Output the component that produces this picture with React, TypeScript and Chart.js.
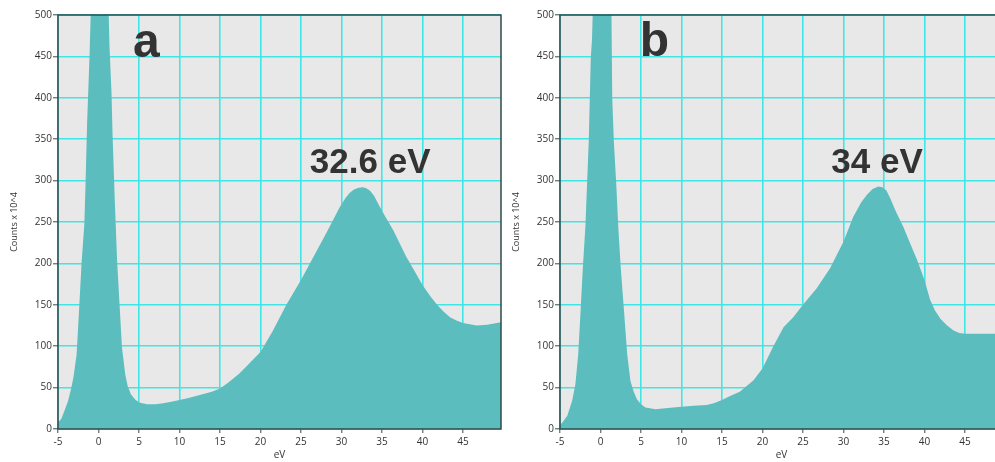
import React, { useEffect, useRef } from 'react';
import { Chart, registerables } from 'chart.js';

Chart.register(...registerables);

// ---- data ----
const energyA = [-5, -4.6, -4.2, -3.75, -3.4, -3.1, -2.7, -2.4, -2.1, -1.75, -1.6, -1.4, -1.1, -0.95, -0.6, 0, 0.6, 1.0, 1.25, 1.35, 1.6, 1.75, 2.0, 2.3, 2.6, 2.9, 3.3, 3.6, 4.0, 4.5, 5.0, 6.0, 7.0, 8.0, 9.0, 10, 11, 12.5, 14, 15, 16, 17.4, 18.5, 20, 21.5, 23.2, 25, 26.5, 28.2, 29.8, 30.5, 31, 31.5, 32, 32.6, 33, 33.5, 34, 34.75, 35.5, 36.4, 37.2, 38, 39, 40, 41, 41.8, 42.6, 43.4, 44.2, 45, 46.7, 48, 49.7];
const countsA = [8, 12, 22, 34, 48, 62, 90, 143, 199, 247, 295, 371, 452, 505, 700, 900, 800, 620, 505, 464, 408, 351, 279, 203, 150, 98, 66, 52, 42, 36, 32, 30, 30, 31, 33, 35, 37, 41, 45, 49, 56, 67, 78, 93, 118, 150, 180, 207, 238, 268, 279, 285, 289, 291, 292, 291, 288, 282, 268, 255, 240, 224, 208, 191, 174, 160, 150, 142, 135, 131, 128, 125, 126, 129];

const energyB = [-5, -4.7, -4.1, -3.5, -3.1, -2.75, -2.5, -2.2, -1.85, -1.65, -1.45, -1.2, -1.05, -0.95, -0.6, 0, 0.6, 1.0, 1.35, 1.45, 1.65, 1.95, 2.2, 2.5, 2.9, 3.3, 3.7, 4.1, 4.5, 5.0, 5.55, 6.8, 8, 9, 10, 11.5, 13.1, 14, 15, 16, 17.2, 18.9, 20, 21.3, 22.6, 23.8, 25, 26.7, 28.35, 30, 31.2, 32.2, 32.9, 33.6, 34.3, 34.8, 35.3, 35.8, 36.5, 37.4, 38.2, 39.1, 40, 40.7, 41.3, 42, 42.8, 43.6, 44.3, 45, 46, 49.7];
const countsB = [5, 8, 16, 34, 54, 90, 135, 191, 247, 299, 347, 448, 470, 505, 700, 900, 850, 650, 505, 400, 347, 295, 243, 195, 143, 90, 58, 45, 36, 30, 26, 24, 25, 26, 27, 28, 29, 31, 35, 40, 45, 59, 73, 99, 123, 135, 150, 170, 194, 226, 256, 274, 283, 290, 293, 292, 288, 278, 262, 244, 225, 204, 180, 156, 143, 133, 125, 119, 116, 115, 115, 115];

const xRange = [-5, 49.7];
const yRange = [0, 500];
const xStep = 5;
const yStep = 50;
const xTitle = 'eV';
const yTitle = 'Counts x 10^4';
const panelLetters = ['a', 'b'];
const peakLabels = ['32.6 eV', '34 eV'];
// annotation anchors in data units [eV, counts]
const letterAnchors = [[4.26, 449], [4.85, 450]];
const peakAnchors = [[26.1, 309], [28.5, 309]];

// ---- styles ----
const FILL = '#5bbdbd';
const GRID = 'rgb(64,230,230)';
const PLOT_BG = '#e8e8e8';
const AXIS = '#2f4c4c';
const TEXT = '#333333';
const FONT = "'Open Sans', 'DejaVu Sans', sans-serif";
const BOLD_FONT = "'Liberation Sans', Arial, sans-serif";

type PanelProps = {
  energy: number[];
  counts: number[];
  letter: string;
  peak: string;
  letterAt: number[];
  peakAt: number[];
  left: number;
  width: number;
  yAxisWidth: number;
  yTitlePad: number;
};

function Panel(p: PanelProps) {
  const ref = useRef<HTMLCanvasElement>(null);
  useEffect(() => {
    if (!ref.current) return;
    const framePlugin = {
      id: 'frame',
      beforeDraw(chart: any) {
        const { ctx, chartArea: a } = chart;
        ctx.save();
        ctx.fillStyle = PLOT_BG;
        ctx.fillRect(a.left, a.top, a.right - a.left, a.bottom - a.top);
        ctx.restore();
      },
      afterDatasetsDraw(chart: any) {
        const { ctx, chartArea: a } = chart;
        ctx.save();
        ctx.strokeStyle = AXIS;
        ctx.lineWidth = 1.5;
        ctx.strokeRect(a.left, a.top, a.right - a.left, a.bottom - a.top);
        ctx.restore();
      },
      afterDraw(chart: any) {
        const { ctx } = chart;
        const xs = chart.scales.x;
        const ys = chart.scales.y;
        ctx.save();
        ctx.fillStyle = TEXT;
        ctx.textAlign = 'left';
        ctx.textBaseline = 'alphabetic';
        ctx.font = `bold 48px ${BOLD_FONT}`;
        ctx.fillText(p.letter, xs.getPixelForValue(p.letterAt[0]), ys.getPixelForValue(p.letterAt[1]));
        ctx.font = `bold 35px ${BOLD_FONT}`;
        ctx.fillText(p.peak, xs.getPixelForValue(p.peakAt[0]), ys.getPixelForValue(p.peakAt[1]));
        ctx.restore();
      },
    };
    const chart = new Chart(ref.current, {
      type: 'line',
      data: {
        datasets: [
          {
            data: p.energy.map((e, i) => ({ x: e, y: p.counts[i] })),
            fill: 'origin',
            backgroundColor: FILL,
            borderWidth: 0,
            pointRadius: 0,
            tension: 0,
          },
        ],
      },
      options: {
        animation: false,
        responsive: false,
        events: [],
        layout: { padding: { left: 0, right: 9, top: 15, bottom: 0 } },
        plugins: { legend: { display: false }, tooltip: { enabled: false } },
        scales: {
          x: {
            type: 'linear',
            min: xRange[0],
            max: xRange[1],
            afterFit: (s: any) => {
              s.height = 33;
            },
            ticks: {
              stepSize: xStep,
              includeBounds: false,
              autoSkip: false,
              maxRotation: 0,
              padding: 3,
              color: TEXT,
              font: { family: FONT, size: 10 },
            },
            grid: { color: GRID, lineWidth: 1.6, tickColor: AXIS, tickWidth: 1, tickLength: 4 },
            border: { display: false },
            title: {
              display: true,
              text: xTitle,
              color: TEXT,
              font: { family: FONT, size: 10 },
              padding: { top: 0, bottom: 1 },
            },
          },
          y: {
            type: 'linear',
            min: yRange[0],
            max: yRange[1],
            afterFit: (s: any) => {
              s.width = p.yAxisWidth;
            },
            ticks: {
              stepSize: yStep,
              padding: 1,
              color: TEXT,
              font: { family: FONT, size: 10 },
            },
            grid: { color: GRID, lineWidth: 1.6, tickColor: AXIS, tickWidth: 1, tickLength: 5 },
            border: { display: false },
            title: {
              display: true,
              text: yTitle,
              color: TEXT,
              font: { family: FONT, size: 9 },
              padding: { top: p.yTitlePad, bottom: 0 },
            },
          },
        },
      },
      plugins: [framePlugin],
    } as any);
    return () => chart.destroy();
  }, []);
  return (
    <canvas
      ref={ref}
      width={p.width}
      height={462}
      style={{ position: 'absolute', left: p.left, top: 0, width: p.width, height: 462 }}
    />
  );
}

export default function App() {
  return (
    <div
      style={{
        position: 'fixed',
        left: 0,
        top: 0,
        width: 995,
        height: 462,
        overflow: 'hidden',
        background: '#ffffff',
      }}
    >
      <Panel
        energy={energyA}
        counts={countsA}
        letter={panelLetters[0]}
        peak={peakLabels[0]}
        letterAt={letterAnchors[0]}
        peakAt={peakAnchors[0]}
        left={0}
        width={510}
        yAxisWidth={58}
        yTitlePad={9}
      />
      <Panel
        energy={energyB}
        counts={countsB}
        letter={panelLetters[1]}
        peak={peakLabels[1]}
        letterAt={letterAnchors[1]}
        peakAt={peakAnchors[1]}
        left={510}
        width={502}
        yAxisWidth={50}
        yTitlePad={1}
      />
    </div>
  );
}
